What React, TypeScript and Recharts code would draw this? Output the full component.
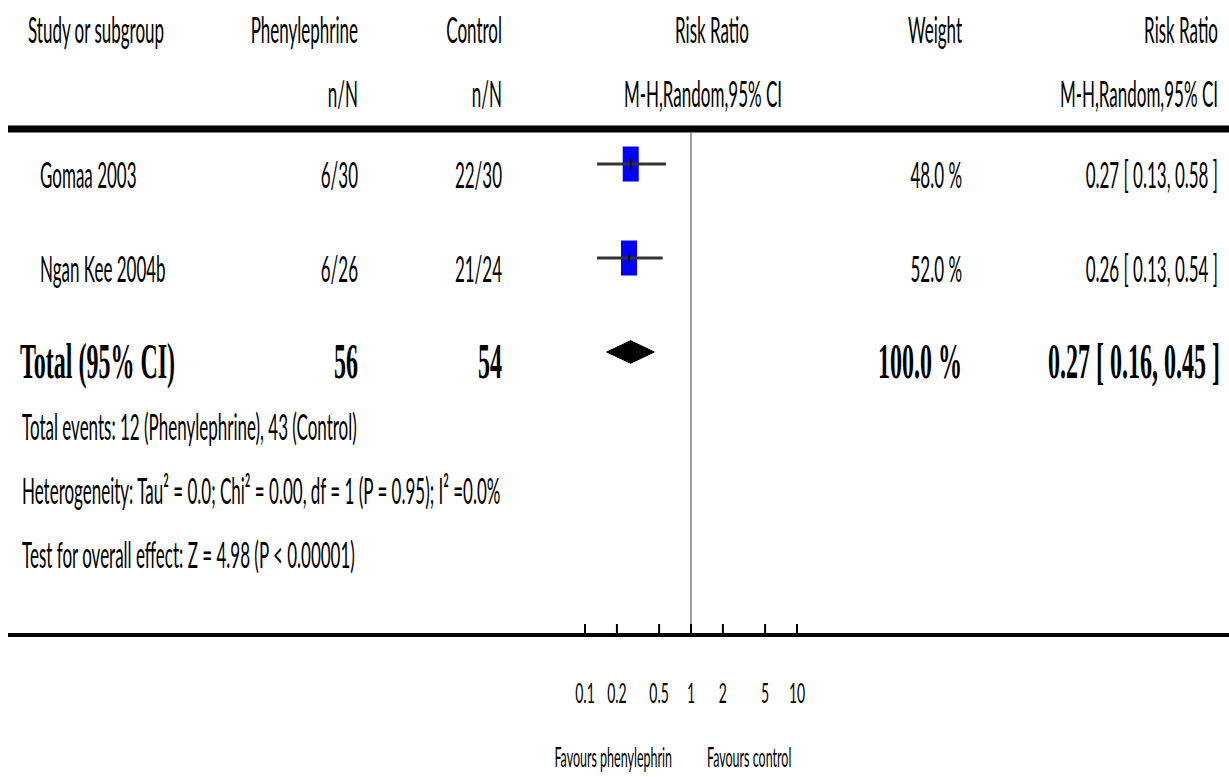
import React from "react";
import { Area, ComposedChart, ErrorBar, ReferenceLine, Scatter, XAxis, YAxis } from "recharts";

// studies, in display order
const STUDIES = ["Gomaa 2003", "Ngan Kee 2004b"];
const PHENYL_EVENTS = [6, 6];
const PHENYL_TOTAL = [30, 26];
const CONTROL_EVENTS = [22, 21];
const CONTROL_TOTAL = [30, 24];
const RISK_RATIO = [0.27, 0.26];
const CI_LOW = [0.13, 0.13];
const CI_HIGH = [0.58, 0.54];
const WEIGHT = [48.0, 52.0];

// pooled estimate (M-H, random)
const POOLED_RR = 0.27;
const POOLED_LOW = 0.16;
const POOLED_HIGH = 0.45;

const AXIS_TICKS = [0.1, 0.2, 0.5, 1, 2, 5, 10];
const TICK_LABELS = ["0.1", "0.2", "0.5", "1", "2", "5", "10"];

const FOOTNOTES = [
  `Total events: ${PHENYL_EVENTS.reduce((a, b) => a + b, 0)} (Phenylephrine), ${CONTROL_EVENTS.reduce((a, b) => a + b, 0)} (Control)`,
  "Heterogeneity: Tau² = 0.0; Chi² = 0.00, df = 1 (P = 0.95); I² =0.0%",
  "Test for overall effect: Z = 4.98 (P < 0.00001)",
];

const W = 1229;
const H = 777;
const SANS = "Lato, 'Open Sans', sans-serif";
const SERIF = "'Liberation Serif', 'DejaVu Serif', serif";
const ROW_GAP = 94; // px between rows, used only for text placement
const DIAMOND_HALF = 0.12; // in row units

const studyRows = STUDIES.map((s, i) => ({
  name: s, row: i + 1, rr: RISK_RATIO[i], lo: CI_LOW[i], hi: CI_HIGH[i], w: WEIGHT[i],
}));
const pooledRow = STUDIES.length + 1;
const diamond = [
  { rr: POOLED_LOW, band: [pooledRow, pooledRow] },
  { rr: POOLED_RR, band: [pooledRow - DIAMOND_HALF, pooledRow + DIAMOND_HALF] },
  { rr: POOLED_HIGH, band: [pooledRow, pooledRow] },
];

const fmt = (v: number) => v.toFixed(2);

function T({ x, y, children, anchor = "start", bold = false, size = 17, sy = 2.2 }: any) {
  return (
    <text
      transform={`translate(${x},${y}) scale(1,${sy})`}
      textAnchor={anchor}
      fontFamily={bold ? SERIF : SANS}
      fontWeight={bold ? 700 : 400}
      fontSize={size}
      fill="#000"
    >
      {children}
    </text>
  );
}

// blue box; the CI line shows through it like in RevMan
const Square = (p: any) => (
  <g>
    <rect x={p.cx - 8} y={p.cy - 17.5} width={16} height={35} fill="#0000ff" />
    <line x1={p.cx - 8} x2={p.cx + 8} y1={p.cy} y2={p.cy} stroke="#333" strokeWidth={3} />
    <line x1={p.cx} x2={p.cx} y1={p.cy - 6} y2={p.cy + 6} stroke="#000" strokeWidth={1.2} />
  </g>
);
const NoDot = () => <g />;

const AxisTick = ({ x, y, payload }: any) => {
  const i = AXIS_TICKS.indexOf(payload.value);
  return (
    <g>
      <line x1={x} x2={x} y1={y} y2={y - 10} stroke="#000" strokeWidth={2} />
      <text transform={`translate(${x},${y + 69}) scale(1,1.9)`} textAnchor="middle"
        fontFamily={SANS} fontWeight={400} fontSize={14} fill="#000">
        {TICK_LABELS[i]}
      </text>
    </g>
  );
};

export default function App() {
  const r1 = 188; // baseline of first study row
  return (
    <div style={{ position: "absolute", left: 0, top: 0, width: W, height: H, background: "#fff" }}>
      <ComposedChart width={W} height={H} data={diamond}
        margin={{ top: 133, right: 432, bottom: 0, left: 585 }}>
        <XAxis dataKey="rr" type="number" scale="log" domain={[0.1, 10]} allowDataOverflow
          ticks={AXIS_TICKS} interval={0} height={143} axisLine={false} tickLine={false}
          tickSize={0} tickMargin={0} tick={<AxisTick />} />
        <YAxis dataKey="row" type="number" domain={[0.67, 6]} reversed hide />
        <ReferenceLine x={1} stroke="#808080" strokeWidth={1.5} />
        <Area dataKey="band" type="linear" fill="#000" fillOpacity={1} stroke="#000" strokeWidth={1}
          dot={false} activeDot={false} isAnimationActive={false} />
        <Scatter data={studyRows} dataKey="row" shape={NoDot} isAnimationActive={false}>
          <ErrorBar direction="x" dataKey={(d: any) => [d.rr - d.lo, d.hi - d.rr]}
            width={0} stroke="#333" strokeWidth={3} isAnimationActive={false} />
        </Scatter>
        <Scatter data={studyRows} dataKey="row" shape={Square} isAnimationActive={false} />
      </ComposedChart>

      <svg width={W} height={H} style={{ position: "absolute", left: 0, top: 0, pointerEvents: "none" }}>
        {/* header */}
        <T x={28} y={43}>Study or subgroup</T>
        <T x={358} y={43} anchor="end">Phenylephrine</T>
        <T x={502} y={43} anchor="end">Control</T>
        <T x={712} y={43} anchor="middle">Risk Ratio</T>
        <T x={962} y={43} anchor="end">Weight</T>
        <T x={1218} y={43} anchor="end">Risk Ratio</T>
        <T x={358} y={107} anchor="end">n/N</T>
        <T x={502} y={107} anchor="end">n/N</T>
        <T x={703} y={107} anchor="middle">M-H,Random,95% CI</T>
        <T x={1218} y={107} anchor="end">M-H,Random,95% CI</T>
        <line x1={8} x2={W} y1={129} y2={129} stroke="#000" strokeWidth={7} />

        {/* study rows */}
        {studyRows.map((s, i) => {
          const y = r1 + i * ROW_GAP;
          return (
            <g key={s.name}>
              <T x={40} y={y}>{s.name}</T>
              <T x={358} y={y} anchor="end">{`${PHENYL_EVENTS[i]}/${PHENYL_TOTAL[i]}`}</T>
              <T x={502} y={y} anchor="end">{`${CONTROL_EVENTS[i]}/${CONTROL_TOTAL[i]}`}</T>
              <T x={962} y={y} anchor="end">{`${s.w.toFixed(1)} %`}</T>
              <T x={1218} y={y} anchor="end">{`${fmt(s.rr)} [ ${fmt(s.lo)}, ${fmt(s.hi)} ]`}</T>
            </g>
          );
        })}

        {/* pooled row */}
        <T x={20} y={r1 + 2 * ROW_GAP + 2} bold size={24} sy={2.1}>Total (95% CI)</T>
        <T x={358} y={r1 + 2 * ROW_GAP + 2} anchor="end" bold size={24} sy={2.1}>
          {PHENYL_TOTAL.reduce((a, b) => a + b, 0)}
        </T>
        <T x={502} y={r1 + 2 * ROW_GAP + 2} anchor="end" bold size={24} sy={2.1}>
          {CONTROL_TOTAL.reduce((a, b) => a + b, 0)}
        </T>
        <T x={962} y={r1 + 2 * ROW_GAP + 2} anchor="end" bold size={24} sy={2.1}>
          {`${WEIGHT.reduce((a, b) => a + b, 0).toFixed(1)} %`}
        </T>
        <T x={1220} y={r1 + 2 * ROW_GAP + 2} anchor="end" bold size={24} sy={2.1}>
          {`${fmt(POOLED_RR)} [ ${fmt(POOLED_LOW)}, ${fmt(POOLED_HIGH)} ]`}
        </T>

        {/* footnotes */}
        {FOOTNOTES.map((f, i) => (
          <T key={i} x={22} y={440 + i * 64}>{f}</T>
        ))}

        {/* bottom rule */}
        <line x1={8} x2={W} y1={635} y2={635} stroke="#000" strokeWidth={4} />

        <T x={672} y={767} anchor="end" size={12.5} sy={2.2}>Favours phenylephrin</T>
        <T x={707} y={767} size={12.5} sy={2.2}>Favours control</T>
      </svg>
    </div>
  );
}
